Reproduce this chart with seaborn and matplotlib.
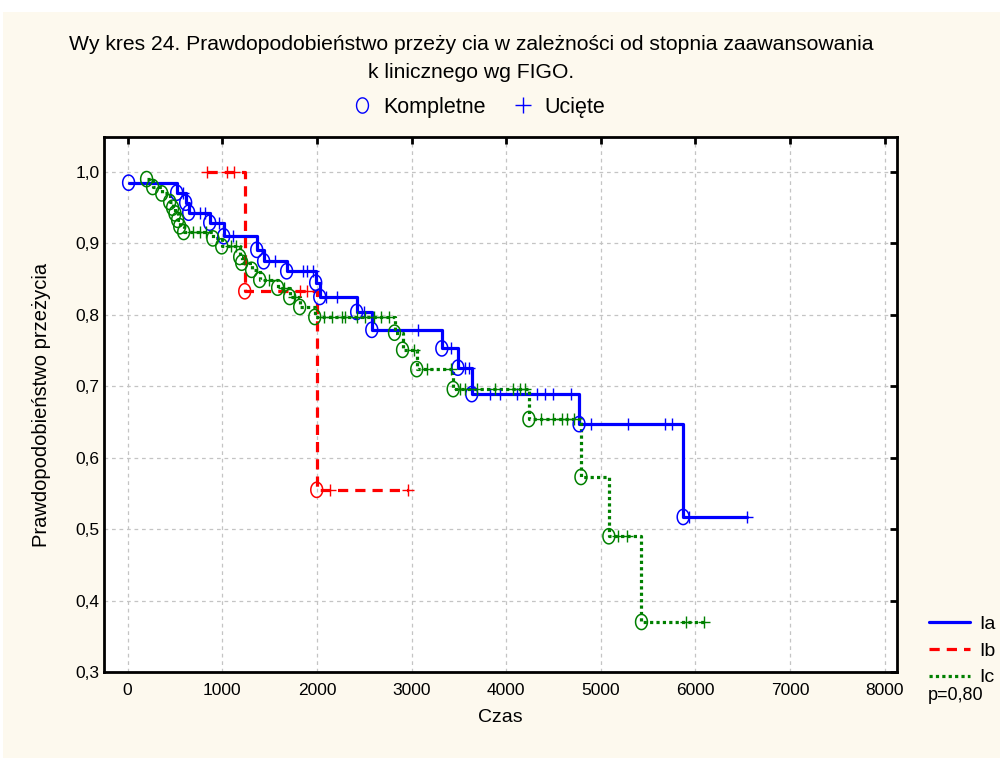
import numpy as np
import pandas as pd
import matplotlib
matplotlib.use("Agg")
import matplotlib.pyplot as plt
import seaborn as sns
from matplotlib.path import Path
from matplotlib.lines import Line2D
from matplotlib.patches import Rectangle

# ---------------- data ----------------
groups = ["Ia", "Ib", "Ic"]

ia_event_t = [10, 518, 613, 645, 867, 1015, 1364, 1437, 1680, 1987, 2030, 2420, 2580,
              3320, 3490, 3636, 4770, 5870]
ia_event_s = [0.985, 0.971, 0.957, 0.943, 0.929, 0.910, 0.891, 0.875, 0.861, 0.845, 0.825,
              0.804, 0.779, 0.753, 0.726, 0.689, 0.647, 0.517]
ia_cens_t = [580, 760, 815, 960, 1110, 1554, 1850, 1900, 1960, 2100, 2210, 2500, 3065, 3420,
             3560, 3610, 3830, 3930, 4110, 4330, 4410, 4490, 4690, 4900, 5285, 5675, 5750,
             5930, 6540]

ib_event_t = [1237, 1998]
ib_event_s = [0.833, 0.555]
ib_cens_t = [835, 1046, 1120, 1818, 1892, 2135, 2960]

ic_event_t = [200, 264, 360, 444, 475, 500, 528, 550, 592, 900, 994, 1184, 1205, 1310, 1395,
              1585, 1712, 1818, 1977, 2820, 2905, 3055, 3440, 4240, 4790, 5085, 5430]
ic_event_s = [0.990, 0.979, 0.970, 0.958, 0.950, 0.942, 0.933, 0.924, 0.916, 0.907, 0.896,
              0.881, 0.873, 0.863, 0.849, 0.838, 0.825, 0.811, 0.797, 0.775, 0.751, 0.724,
              0.696, 0.654, 0.573, 0.490, 0.370]
ic_cens_t = [690, 760, 830, 1090, 1140, 1490, 1650, 1760, 2080, 2160, 2260, 2300, 2420, 2510,
             2600, 2680, 2760, 3030, 3160, 3420, 3510, 3560, 3690, 3880, 4070, 4145, 4200,
             4370, 4500, 4590, 4640, 4720, 5180, 5275, 5900, 6090]

x_ticks = [0, 1000, 2000, 3000, 4000, 5000, 6000, 7000, 8000]
x_tick_labels = ["0", "1000", "2000", "3000", "4000", "5000", "6000", "7000", "8000"]
y_ticks = [0.3, 0.4, 0.5, 0.6, 0.7, 0.8, 0.9, 1.0]
y_tick_labels = ["0,3", "0,4", "0,5", "0,6", "0,7", "0,8", "0,9", "1,0"]

title_lines = ["Wy kres 24. Prawdopodobieństwo przeży cia w zależności od stopnia zaawansowania",
               "k linicznego wg FIGO."]
legend_top_labels = ["Kompletne", "Ucięte"]
x_label = "Czas"
y_label = "Prawdopodobieństwo przeżycia"
p_text = "p=0,80"

# ---------------- styling ----------------
sns.set_theme(style="white")
plt.rcParams["font.family"] = ["Liberation Sans", "DejaVu Sans"]
plt.rcParams["text.color"] = "black"
plt.rcParams["axes.labelcolor"] = "black"

colors = {"Ia": "#0000FF", "Ib": "#FF0000", "Ic": "#008000"}
dashes = {"Ia": "", "Ib": (3.2, 2.2), "Ic": (1.0, 1.0)}
bg = "#FDF9EE"

ev = {"Ia": (ia_event_t, ia_event_s), "Ib": (ib_event_t, ib_event_s), "Ic": (ic_event_t, ic_event_s)}
cens = {"Ia": ia_cens_t, "Ib": ib_cens_t, "Ic": ic_cens_t}


def level_at(t, et, es):
    idx = np.searchsorted(np.asarray(et), t, side="right") - 1
    return 1.0 if idx < 0 else es[idx]


step_rows, ev_rows, cens_rows = [], [], []
for g in groups:
    et, es = ev[g]
    ct = cens[g]
    all_t = sorted(list(et) + list(ct))
    t0, t1 = all_t[0], all_t[-1]
    pts = []
    if t0 not in et:
        pts.append((t0, level_at(t0, et, es)))
    pts += list(zip(et, es))
    if t1 not in et:
        pts.append((t1, level_at(t1, et, es)))
    for t, s in pts:
        step_rows.append({"grupa": g, "t": t, "S": s})
    for t, s in zip(et, es):
        ev_rows.append({"grupa": g, "t": t, "S": s})
    for t in ct:
        cens_rows.append({"grupa": g, "t": t, "S": level_at(t, et, es)})

steps = pd.DataFrame(step_rows)
events = pd.DataFrame(ev_rows)
censored = pd.DataFrame(cens_rows)

# ellipse marker (taller than wide) for events
th = np.linspace(0, 2 * np.pi, 64)
ellipse = Path(np.column_stack([0.78 * np.cos(th), np.sin(th)]), closed=True)

fig = plt.figure(figsize=(10, 7.58), dpi=100, facecolor=bg)
fig.patches.append(Rectangle((0, 1 - 12 / 758), 1, 12 / 758, transform=fig.transFigure,
                             facecolor="white", edgecolor="none", zorder=0))
fig.patches.append(Rectangle((0, 0), 3 / 1000, 1, transform=fig.transFigure,
                             facecolor="white", edgecolor="none", zorder=0))
ax = fig.add_axes([0.104, 0.1135, 0.793, 0.7058])
ax.set_facecolor("white")

sns.lineplot(data=steps, x="t", y="S", hue="grupa", style="grupa", palette=colors,
             dashes=dashes, estimator=None, sort=False, drawstyle="steps-post",
             linewidth=2.3, legend=False, ax=ax, zorder=2)

for g in groups:
    d = events[events.grupa == g]
    sns.scatterplot(x=d["t"], y=d["S"], marker=ellipse, s=120, facecolor="none",
                    edgecolor=colors[g], linewidth=1.1, legend=False, ax=ax, zorder=3)
    c = censored[censored.grupa == g]
    sns.scatterplot(x=c["t"], y=c["S"], marker="+", s=75, color=colors[g],
                    linewidth=1.0, legend=False, ax=ax, zorder=3)

ax.set_xlim(-250, 8130)
ax.set_ylim(0.3, 1.049)
ax.set_xticks(x_ticks)
ax.set_xticklabels(x_tick_labels)
ax.set_yticks(y_ticks)
ax.set_yticklabels(y_tick_labels)
ax.tick_params(direction="in", length=5, width=2, top=True, right=True,
               labelsize=12.5, colors="black", pad=3)
ax.tick_params(axis="x", pad=8)
ax.grid(True, color="#C4C4C4", linestyle=(0, (3, 3)), linewidth=0.9)
ax.set_axisbelow(True)
for sp in ax.spines.values():
    sp.set_visible(True)
    sp.set_color("black")
    sp.set_linewidth(2)

ax.set_xlabel(x_label, fontsize=14, labelpad=8, color="black")
ax.set_ylabel(y_label, fontsize=14.5, labelpad=18, color="black")

fig.text(0.471, 1 - 45 / 758, title_lines[0], ha="center", va="center", fontsize=15.2,
         color="black")
fig.text(0.471, 1 - 72 / 758, title_lines[1], ha="center", va="center", fontsize=15.2,
         color="black")

top_handles = [
    Line2D([], [], linestyle="none", marker=ellipse, markersize=11, markerfacecolor="none",
           markeredgecolor="#0000FF", markeredgewidth=1.0),
    Line2D([], [], linestyle="none", marker="+", markersize=11, color="#0000FF",
           markeredgewidth=1.0),
]
fig.legend(top_handles, legend_top_labels, loc="center", bbox_to_anchor=(0.478, 1 - 107 / 758),
           ncol=2, frameon=False, fontsize=15.5, handletextpad=0.5, columnspacing=1.2,
           handlelength=1.0, labelcolor="black")

right_handles = [Line2D([], [], color=colors[g], linewidth=2.3,
                        linestyle=(0, dashes[g]) if dashes[g] else "-") for g in groups]
fig.legend(right_handles, groups, loc="upper left", bbox_to_anchor=(0.929, 1 - 615 / 758),
           frameon=False, fontsize=14, handlelength=2.1, handletextpad=0.5,
           labelspacing=0.48, borderaxespad=0, borderpad=0, labelcolor="black")
fig.text(0.928, 1 - 696 / 758, p_text, ha="left", va="center", fontsize=13, color="black")

fig.savefig("out.png", dpi=100, facecolor=bg)
